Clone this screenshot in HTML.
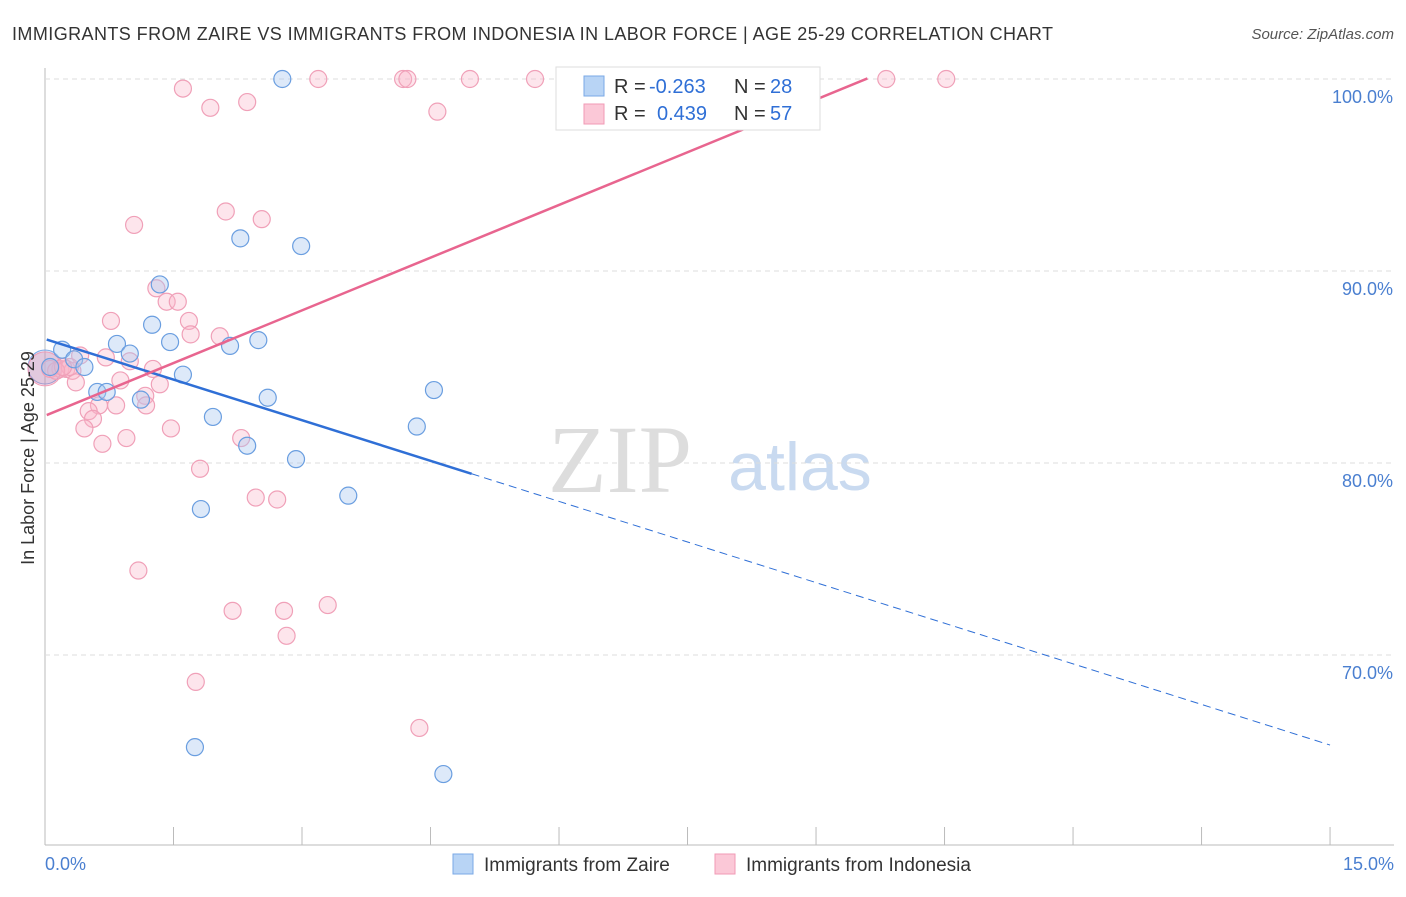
<!DOCTYPE html>
<html><head><meta charset="utf-8"><style>
body{margin:0;background:#fff;font-family:"Liberation Sans",sans-serif;}
</style></head><body>
<svg width="1406" height="892" xmlns="http://www.w3.org/2000/svg" id="svg">
<text x="12" y="40" font-size="18" fill="#333" textLength="1041" lengthAdjust="spacing">IMMIGRANTS FROM ZAIRE VS IMMIGRANTS FROM INDONESIA IN LABOR FORCE | AGE 25-29 CORRELATION CHART</text>
<text x="1394" y="39" font-size="15" fill="#555" font-style="italic" text-anchor="end">Source: ZipAtlas.com</text>
<text x="620" y="492" font-size="96" fill="#ddd" font-family="Liberation Serif,serif" text-anchor="middle">ZIP</text>
<text x="800" y="490" font-size="68" fill="#c9daf0" text-anchor="middle">atlas</text>
<g id="grid"></g><g id="marks"></g>
<text transform="translate(34,458) rotate(-90)" font-size="18" fill="#333" text-anchor="middle">In Labor Force | Age 25-29</text>
<text x="45" y="870" font-size="18" fill="#4a7fd0">0.0%</text>
<text x="1394" y="870" font-size="18" fill="#4a7fd0" text-anchor="end">15.0%</text>
<g>
<rect x="556" y="67" width="264" height="63" fill="#fff" stroke="#ddd"/>
<rect x="584" y="76" width="20" height="20" fill="#b8d4f5" stroke="#7aa8e6"/>
<rect x="584" y="104" width="20" height="20" fill="#fbc8d7" stroke="#f09ab5"/>
<text x="614" y="93" font-size="20" fill="#333">R =</text>
<text x="649" y="93" font-size="20" fill="#2f6fd6">-0.263</text>
<text x="734" y="93" font-size="20" fill="#333">N =</text>
<text x="770" y="93" font-size="20" fill="#2f6fd6">28</text>
<text x="614" y="120" font-size="20" fill="#333">R =</text>
<text x="657" y="120" font-size="20" fill="#2f6fd6">0.439</text>
<text x="734" y="120" font-size="20" fill="#333">N =</text>
<text x="770" y="120" font-size="20" fill="#2f6fd6">57</text>
</g>
<g>
<rect x="453" y="854" width="20" height="20" fill="#b8d4f5" stroke="#7aa8e6"/>
<text x="484" y="871" font-size="19" fill="#333">Immigrants from Zaire</text>
<rect x="715" y="854" width="20" height="20" fill="#fbc8d7" stroke="#f09ab5"/>
<text x="746" y="871" font-size="19" fill="#333">Immigrants from Indonesia</text>
</g>
</svg>
<script>
const yTicks=[100,90,80,70];
const yTickLabels=["100.0%","90.0%","80.0%","70.0%"];
const xTicks=[0,1.5,3,4.5,6,7.5,9,10.5,12,13.5,15];
const zaireX=[2.77,2.28,2.99,1.34,1.25,1.46,0.84,2.16,2.49,0.2,0.99,0.34,0.46,1.61,0.61,0.72,1.12,2.6,4.54,1.96,2.36,4.34,2.93,3.54,1.82,1.75,4.65,0.06];
const zaireY=[100,91.7,91.3,89.3,87.2,86.3,86.2,86.1,86.4,85.9,85.7,85.4,85.0,84.6,83.7,83.7,83.3,83.4,83.8,82.4,80.9,81.9,80.2,78.3,77.6,65.2,63.8,85.0];
const indoX=[1.61,1.93,2.36,3.19,4.18,4.23,4.96,5.72,6.11,9.82,10.52,4.58,1.04,2.11,2.53,1.3,1.42,1.55,1.68,1.7,2.04,0.77,0.41,0.71,0.99,0.06,0.18,0.25,0.32,1.26,0.88,0.36,1.34,1.17,0.63,0.51,0.83,1.18,0.56,0.46,1.47,0.95,0.67,2.29,1.81,2.46,2.71,1.09,2.19,2.79,3.3,2.82,1.76,4.37,0.29,0.13,0.21];
const indoY=[99.5,98.5,98.8,100,100,100,100,100,100,100,100,98.3,92.4,93.1,92.7,89.1,88.4,88.4,87.4,86.7,86.6,87.4,85.6,85.5,85.3,84.9,84.9,84.9,84.8,84.9,84.3,84.2,84.1,83.5,83.0,82.7,83.0,83.0,82.3,81.8,81.8,81.3,81.0,81.3,79.7,78.2,78.1,74.4,72.3,72.3,72.6,71.0,68.6,66.2,85.0,84.8,85.0];
const bigX=[0.0,0.0];const bigY=[85.0,84.9];
const zaireFit=[86.46,-1.41];const indoFit=[82.46,1.83];
const zaireSolidEnd=4.98, indoEnd=9.6;
const X=v=>45+v*85.67, Y=v=>79+(100-v)*19.2;
const NS="http://www.w3.org/2000/svg";
const grid=document.getElementById('grid'), marks=document.getElementById('marks');
function mk(p,tag,a){const e=document.createElementNS(NS,tag);for(const k in a)e.setAttribute(k,a[k]);p.appendChild(e);return e;}
let ax=mk(grid,'line',{x1:45,y1:68,x2:45,y2:845,stroke:'#bbb'});


let bx=mk(grid,'line',{x1:45,y1:845,x2:1394,y2:845,stroke:'#bbb'});


yTicks.forEach((t,i)=>{
 let g=mk(grid,'line',{x1:45,x2:1394,y1:Y(t),y2:Y(t),stroke:'#ddd','stroke-dasharray':'5,4'});
 
 
 let tx=mk(grid,'text',{x:1393,y:Y(t)+24,'font-size':18,fill:'#4a7fd0','text-anchor':'end'});
 tx.textContent=yTickLabels[i];
 
 
});
xTicks.forEach(t=>{
 let l=mk(grid,'line',{x1:X(t),x2:X(t),y1:827,y2:845,stroke:'#bbb'});
 
 
});
bigX.forEach((v,i)=>{
 let c=mk(marks,'circle',{cx:X(v),cy:Y(bigY[i]),r:17,fill:i?'rgba(240,130,160,0.3)':'rgba(120,165,230,0.25)',stroke:i?'#f09ab5':'#7aa8e6'});
 
 
});
indoX.forEach((v,i)=>{
 let c=mk(marks,'circle',{cx:X(v),cy:Y(indoY[i]),r:8.5,fill:'rgba(248,180,200,0.35)',stroke:'#f0a0b8','stroke-width':1.2});
 
 
});
zaireX.forEach((v,i)=>{
 let c=mk(marks,'circle',{cx:X(v),cy:Y(zaireY[i]),r:8.5,fill:'rgba(170,200,240,0.4)',stroke:'#6a9ee0','stroke-width':1.2});
 
 
});
const zf=x=>zaireFit[0]+zaireFit[1]*x, inf=x=>indoFit[0]+indoFit[1]*x;
let l1=mk(marks,'line',{x1:X(0.02),y1:Y(zf(0.02)),x2:X(zaireSolidEnd),y2:Y(zf(zaireSolidEnd)),stroke:'#2f6fd6','stroke-width':2.5});


let l2=mk(marks,'line',{x1:X(zaireSolidEnd),y1:Y(zf(zaireSolidEnd)),x2:X(15),y2:Y(zf(15)),stroke:'#2f6fd6','stroke-width':1,'stroke-dasharray':'8,5'});


let l3=mk(marks,'line',{x1:X(0.02),y1:Y(inf(0.02)),x2:X(indoEnd),y2:Y(inf(indoEnd)),stroke:'#e8658f','stroke-width':2.5});


</script>
</body></html>
